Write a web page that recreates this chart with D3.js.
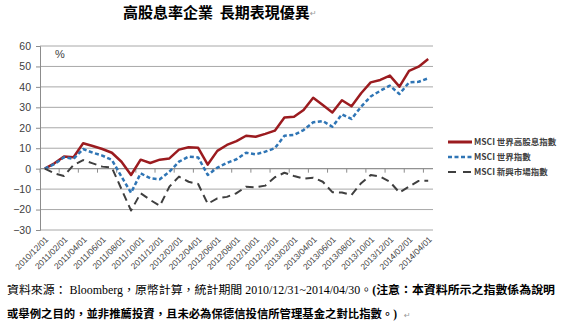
<!DOCTYPE html>
<html>
<head>
<meta charset="utf-8">
<script src="https://cdn.jsdelivr.net/npm/d3@7"></script>
<style>
  body { margin: 0; background: #fff; }
  svg { display: block; }
</style>
</head>
<body>
<svg width="565" height="329"></svg>
<script>
const MONTHS = [
  "2010/12/01", "2011/01/01", "2011/02/01", "2011/03/01", "2011/04/01", "2011/05/01",
  "2011/06/01", "2011/07/01", "2011/08/01", "2011/09/01", "2011/10/01", "2011/11/01",
  "2011/12/01", "2012/01/01", "2012/02/01", "2012/03/01", "2012/04/01", "2012/05/01",
  "2012/06/01", "2012/07/01", "2012/08/01", "2012/09/01", "2012/10/01", "2012/11/01",
  "2012/12/01", "2013/01/01", "2013/02/01", "2013/03/01", "2013/04/01", "2013/05/01",
  "2013/06/01", "2013/07/01", "2013/08/01", "2013/09/01", "2013/10/01", "2013/11/01",
  "2013/12/01", "2014/01/01", "2014/02/01", "2014/03/01", "2014/04/01"
];

// cumulative return, %
const HIGH_DIV = [
  0, 2.6, 5.9, 5.6, 12.4, 11.1, 9.6, 7.8, 3.4, -3.1, 4.4, 2.8, 4.4, 5.0, 9.3, 10.5,
  10.2, 2.0, 8.7, 11.6, 13.5, 16.1, 15.6, 17.0, 18.6, 25.0, 25.4, 28.7, 34.7, 31.1,
  27.5, 33.5, 30.5, 36.9, 42.2, 43.4, 45.5, 40.1, 47.8, 49.9, 53.6
];
const WORLD = [
  0, 2.2, 5.6, 4.8, 9.6, 7.8, 6.4, 4.3, -3.9, -11.8, -2.3, -4.7, -5.2, -1.5, 3.4, 5.9,
  5.5, -3.1, 0.5, 2.8, 4.6, 7.8, 7.0, 8.3, 10.0, 16.1, 16.5, 18.9, 22.7, 23.3,
  20.5, 26.6, 24.3, 30.3, 35.3, 38.1, 40.6, 36.5, 42.2, 42.5, 44.2
];
const EMERGING = [
  0, -2.3, -3.6, 1.8, 4.2, 2.6, 1.0, 0.5, -10.0, -20.5, -12.0, -15.3, -18.2, -8.8, -3.9, -6.4,
  -7.5, -17.2, -14.5, -13.8, -12.0, -8.8, -9.1, -8.3, -4.2, -2.0, -3.6, -4.9, -4.4, -6.4,
  -11.5, -11.7, -12.9, -7.1, -3.1, -3.9, -6.4, -11.7, -8.8, -6.0, -5.9
];
const SERIES_NAMES = ["MSCI 世界高股息指數", "MSCI 世界指數", "MSCI 新興市場指數"];
const Y_TICKS = [-30, -20, -10, 0, 10, 20, 30, 40, 50, 60];

const TITLE = "高股息率企業  長期表現優異";
const NOTE_1A = "資料來源： Bloomberg，原幣計算，統計期間 2010/12/31~2014/04/30。";
const NOTE_1B = "(注意：本資料所示之指數係為說明";
const NOTE_2 = "或舉例之目的，並非推薦投資，且未必為保德信投信所管理基金之對比指數。)";

const svg = d3.select("svg");
const plot = { left: 40, right: 433, top: 46, bottom: 230 };

const xScale = d3.scaleBand().domain(MONTHS).range([plot.left, plot.right]);
const yScale = d3.scaleLinear().domain([-30, 60]).range([plot.bottom, plot.top]);
const cx = m => xScale(m) + xScale.bandwidth() / 2;

// title
svg.append("text")
  .attr("x", 123).attr("y", 18)
  .attr("font-family", "'Noto Sans CJK TC'")
  .attr("font-weight", "bold")
  .attr("font-size", 15)
  .attr("xml:space", "preserve")
  .style("white-space", "pre")
  .text(TITLE);
svg.append("text")
  .attr("x", 310).attr("y", 16)
  .attr("font-size", 8).attr("fill", "#999")
  .attr("font-family", "'DejaVu Sans'")
  .text("↵");

// gridlines
svg.append("g")
  .selectAll("line")
  .data(Y_TICKS)
  .enter()
  .append("line")
  .attr("x1", plot.left).attr("x2", plot.right)
  .attr("y1", d => yScale(d)).attr("y2", d => yScale(d))
  .attr("stroke", "#a8a8a8").attr("stroke-width", 1);

// y axis
const yAxis = d3.axisLeft(yScale).tickValues(Y_TICKS).tickSize(4).tickPadding(5);
const gy = svg.append("g")
  .attr("transform", "translate(" + [plot.left, 0] + ")")
  .call(yAxis);
gy.select(".domain").attr("stroke", "#8c8c8c");
gy.selectAll(".tick line").attr("stroke", "#8c8c8c");
gy.selectAll("text")
  .attr("font-family", "'Liberation Sans'")
  .attr("font-size", 10.5)
  .attr("fill", "#404040");

svg.append("text")
  .attr("x", 55).attr("y", 58)
  .attr("font-family", "'Liberation Sans'")
  .attr("font-size", 11)
  .attr("fill", "#404040")
  .text("%");

// horizontal axis at zero
const y0 = yScale(0);
svg.append("line")
  .attr("x1", plot.left).attr("x2", plot.right)
  .attr("y1", y0).attr("y2", y0)
  .attr("stroke", "#8c8c8c");
const labelled = MONTHS.filter((m, i) => i % 2 === 0);
svg.append("g")
  .selectAll("line")
  .data(labelled)
  .enter()
  .append("line")
  .attr("x1", d => xScale(d)).attr("x2", d => xScale(d))
  .attr("y1", y0).attr("y2", y0 + 4)
  .attr("stroke", "#8c8c8c");

// category labels
svg.append("g")
  .selectAll("text")
  .data(labelled)
  .enter()
  .append("text")
  .attr("transform", d => "translate(" + [cx(d) + 2, 238] + ") rotate(-45)")
  .attr("text-anchor", "end")
  .attr("dy", "0.35em")
  .attr("font-family", "'Liberation Sans'")
  .attr("font-size", 8.5)
  .attr("fill", "#404040")
  .text(d => d);

// lines
const styles = [
  { color: "#9b1b1f", width: 2.5, dash: null },
  { color: "#2f75b5", width: 2.5, dash: "4,2.5" },
  { color: "#3f3f3f", width: 2, dash: "8,5" }
];
const lineGen = d3.line()
  .x((d, i) => cx(MONTHS[i]))
  .y(d => yScale(d));

[HIGH_DIV, WORLD, EMERGING].forEach((data, k) => {
  svg.append("path")
    .datum(data)
    .attr("d", lineGen)
    .attr("fill", "none")
    .attr("stroke", styles[k].color)
    .attr("stroke-width", styles[k].width)
    .attr("stroke-dasharray", styles[k].dash)
    .attr("stroke-linejoin", "round");
});

// legend
const legendY = [142, 157, 172];
const legend = svg.append("g");
SERIES_NAMES.forEach((name, k) => {
  legend.append("line")
    .attr("x1", 448).attr("x2", 472)
    .attr("y1", legendY[k]).attr("y2", legendY[k])
    .attr("stroke", styles[k].color)
    .attr("stroke-width", k === 0 ? 3 : styles[k].width)
    .attr("stroke-dasharray", k === 2 ? "8,7" : styles[k].dash);
  legend.append("text")
    .attr("x", 474).attr("y", legendY[k])
    .attr("dy", "0.35em")
    .attr("font-family", "'Noto Sans CJK TC'")
    .attr("font-weight", "bold")
    .attr("font-size", 8.5)
    .attr("fill", "#404040")
    .text(name);
});

// footnote
const note1 = svg.append("text")
  .attr("x", 7).attr("y", 294)
  .attr("font-family", "'Liberation Serif', 'Noto Sans CJK TC'")
  .attr("font-size", 11.5)
  .attr("textLength", 548)
  .attr("lengthAdjust", "spacingAndGlyphs");
note1.append("tspan").text(NOTE_1A);
note1.append("tspan").attr("font-weight", "bold").text(NOTE_1B);

svg.append("text")
  .attr("x", 7).attr("y", 318)
  .attr("font-family", "'Liberation Serif', 'Noto Sans CJK TC'")
  .attr("font-size", 11.5)
  .attr("font-weight", "bold")
  .attr("textLength", 390)
  .attr("lengthAdjust", "spacingAndGlyphs")
  .text(NOTE_2);
svg.append("text")
  .attr("x", 404).attr("y", 318)
  .attr("font-size", 8).attr("fill", "#999")
  .attr("font-family", "'DejaVu Sans'")
  .text("↵");
</script>
</body>
</html>
